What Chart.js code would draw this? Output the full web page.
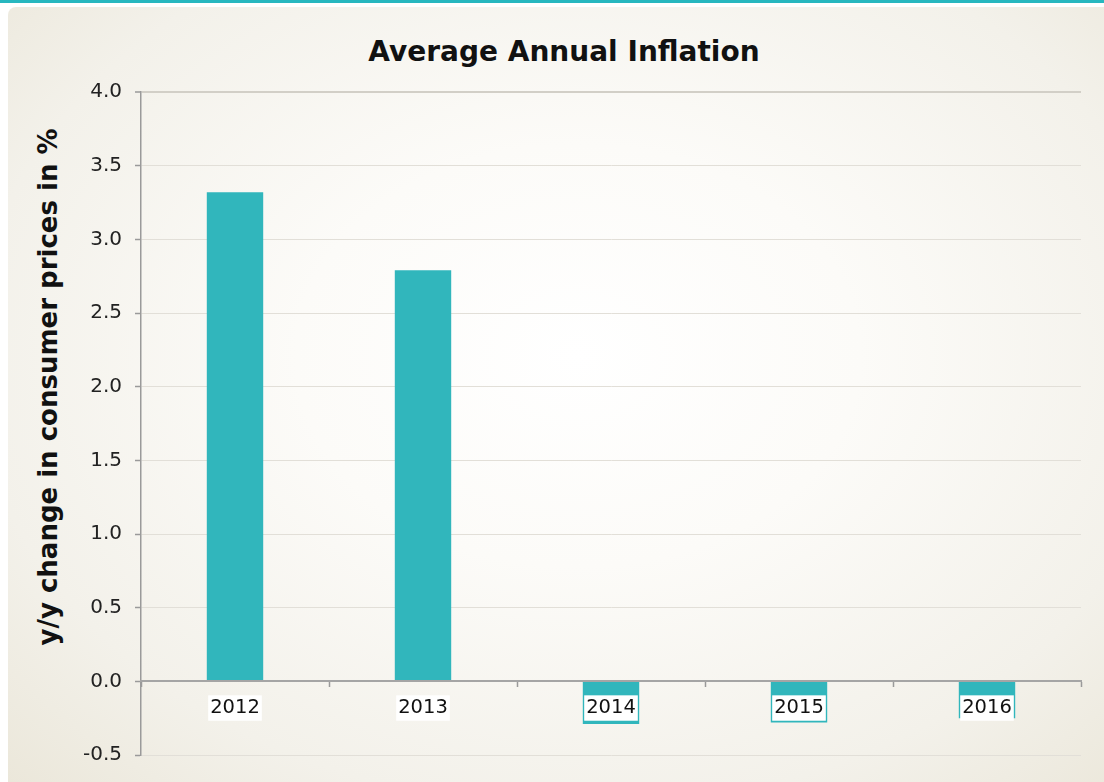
<!DOCTYPE html>
<html>
<head>
<meta charset="utf-8">
<script src="https://cdn.jsdelivr.net/npm/chart.js@4.4.0/dist/chart.umd.min.js"></script>
<style>
  html, body { margin: 0; padding: 0; background: #fff; }
  #wrap { position: relative; width: 1104px; height: 782px; overflow: hidden; }
  #topbar { position: absolute; left: 0; top: 0; width: 1104px; height: 3px; background: #27b7bf; }
  #panel {
    position: absolute; left: 8px; top: 7px; right: 0; bottom: 0;
    border-top-left-radius: 8px;
    background: radial-gradient(ellipse at 52% 45%, #ffffff 0%, #fcfbf8 35%, #f3f1ea 75%, #ebe7da 100%);
  }
  #title {
    position: absolute; left: 0; width: 1128px; top: 35px;
    text-align: center; line-height: 28px;
    font: bold 28px "DejaVu Sans", sans-serif; color: #111;
  }
  #ytitle {
    position: absolute; left: 48px; top: 387px;
    transform: translate(-50%, -50%) rotate(-90deg);
    white-space: nowrap; line-height: 26px;
    font: bold 26px "DejaVu Sans", sans-serif; color: #111;
  }
  #chart { position: absolute; left: 0; top: 0; }
</style>
</head>
<body>
<div id="wrap">
  <div id="topbar"></div>
  <div id="panel"></div>
  <div id="title">Average Annual Inflation</div>
  <div id="ytitle">y/y change in consumer prices in %</div>
  <canvas id="chart" width="1104" height="782"></canvas>
</div>
<script>
// Jahresdurchschnitt der Inflation (% ggü. Vorjahr)
const years = ['2012', '2013', '2014', '2015', '2016'];
const inflation = [3.32, 2.79, -0.29, -0.28, -0.25];

// Achsenbereich
const yMin = -0.5;
const yMax = 4.0;
const yStep = 0.5;

const tealBar = '#31b6bc';

document.addEventListener('DOMContentLoaded', () => {
    const ctx = document.getElementById('chart').getContext('2d');

    new Chart(ctx, {
        type: 'bar',
        data: {
            labels: years,
            datasets: [{
                data: inflation,
                backgroundColor: tealBar,
                borderWidth: 0,
                barPercentage: 0.3,
                categoryPercentage: 1.0
            }]
        },
        options: {
            responsive: false,
            animation: false,
            layout: { padding: { top: 92, right: 23, bottom: 27, left: 22 } },
            plugins: {
                legend: { display: false },
                tooltip: { enabled: false },
                title: { display: false }
            },
            scales: {
                x: {
                    // Achse auf der Nulllinie, Jahreszahlen werden über die Balken gelegt
                    position: { y: 0 },
                    offset: true,
                    grid: {
                        offset: true,
                        drawOnChartArea: false,
                        tickLength: 5,
                        tickColor: '#9a9a9a',
                        tickWidth: 1.5
                    },
                    border: { color: '#a5a5a5', width: 2, z: 1 },
                    ticks: {
                        z: 1,
                        color: '#111',
                        font: { family: 'DejaVu Sans', size: 19.5 },
                        padding: 10,
                        maxRotation: 0,
                        showLabelBackdrop: true,
                        backdropColor: '#ffffff',
                        backdropPadding: { top: 1, bottom: 1, left: 2, right: 2 }
                    }
                },
                y: {
                    min: yMin,
                    max: yMax,
                    afterFit: (scale) => { scale.width = 119; },
                    ticks: {
                        stepSize: yStep,
                        callback: (v) => Number(v).toFixed(1),
                        padding: 13,
                        color: '#222',
                        font: { family: 'DejaVu Sans', size: 20 }
                    },
                    grid: {
                        color: (c) => (c.tick && c.tick.value === yMax) ? '#d2cfc7' : '#e2dfd8',
                        lineWidth: (c) => (c.tick && c.tick.value === yMax) ? 2 : 1,
                        tickLength: 6,
                        tickColor: '#9a9a9a',
                        tickWidth: 1.5
                    },
                    border: { color: '#9a9a9a', width: 1.5 }
                }
            }
        }
    });
});
</script>
</body>
</html>
